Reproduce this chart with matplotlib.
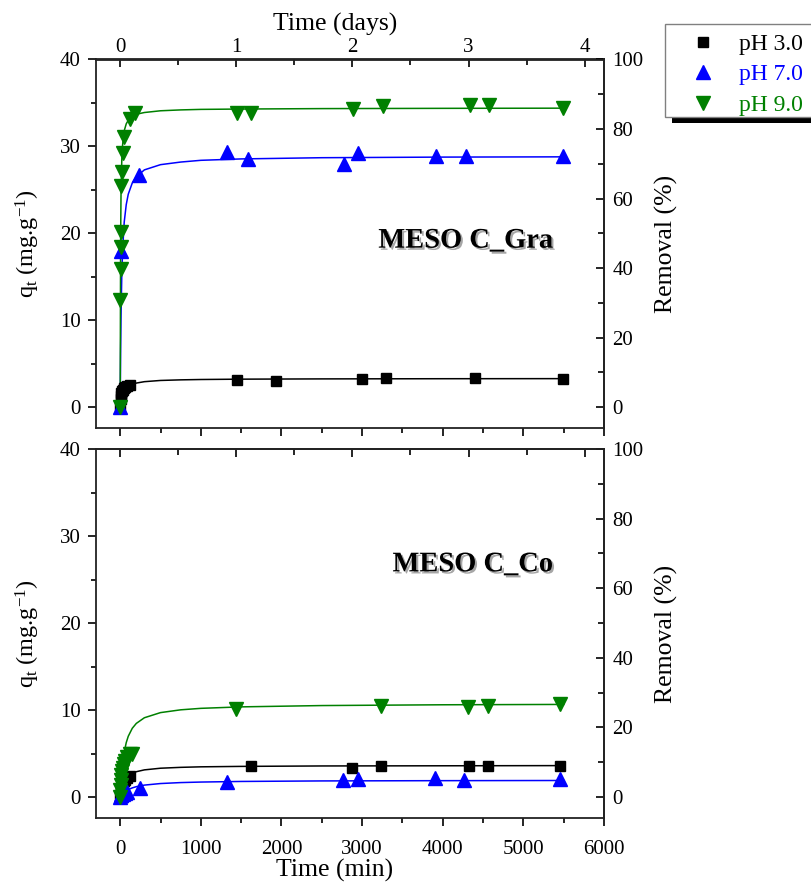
import matplotlib
matplotlib.use("Agg")
import matplotlib.pyplot as plt
import matplotlib.patheffects as pe
from matplotlib.ticker import MultipleLocator
from matplotlib.lines import Line2D
from matplotlib.patches import Rectangle

plt.rcParams['font.family'] = 'Liberation Serif'
plt.rcParams['mathtext.fontset'] = 'custom'
plt.rcParams['mathtext.rm'] = 'Liberation Serif'
plt.rcParams['mathtext.it'] = 'Liberation Serif:italic'

# ---- MESO C_Gra (top) : measured points, time in min, q in mg/g
gra_ph3_t = [0, 5, 10, 15, 20, 30, 45, 60, 90, 120, 1445, 1930, 3000, 3300, 4395, 5490]
gra_ph3_q = [0, 0.9, 1.3, 1.6, 1.8, 2.0, 2.2, 2.3, 2.4, 2.5, 3.1, 3.0, 3.2, 3.4, 3.3, 3.2]
gra_ph7_t = [0, 10, 228, 1330, 1580, 2770, 2955, 3920, 4285, 5490]
gra_ph7_q = [0, 18.0, 26.7, 29.3, 28.6, 28.0, 29.2, 28.9, 28.9, 28.9]
gra_ph9_t = [0, 2, 4, 6, 8, 15, 25, 33, 50, 125, 187, 1453, 1628, 2890, 3259, 4338, 4574, 5488]
gra_ph9_q = [0, 12.3, 15.9, 18.4, 20.1, 25.4, 27.1, 29.2, 31.1, 33.2, 33.9, 33.9, 33.9, 34.3, 34.6, 34.8, 34.8, 34.4]

# ---- MESO C_Co (bottom)
co_ph3_t = [0, 5, 10, 15, 20, 30, 45, 60, 90, 120, 1620, 2877, 3238, 4325, 4558, 5458]
co_ph3_q = [0, 0.5, 0.8, 1.0, 1.2, 1.5, 1.8, 2.0, 2.2, 2.4, 3.6, 3.4, 3.6, 3.6, 3.6, 3.6]
co_ph7_t = [0, 5, 10, 30, 60, 90, 240, 1330, 2760, 2950, 3900, 4260, 5460]
co_ph7_q = [0, 0.2, 0.3, 0.4, 0.5, 0.6, 1.1, 1.7, 1.98, 2.06, 2.18, 1.95, 2.06]
co_ph9_t = [0, 2, 5, 10, 15, 20, 30, 45, 60, 90, 120, 150, 1432, 3238, 4318, 4558, 5458]
co_ph9_q = [0, 0.8, 1.4, 2.0, 2.5, 3.0, 3.4, 3.8, 4.2, 4.6, 4.9, 5.0, 10.1, 10.5, 10.3, 10.5, 10.7]

# ---- fitted curves
fit_t = [0, 5, 10, 20, 30, 50, 75, 100, 150, 200, 300, 500, 750, 1000, 1500, 2500, 4000, 5500]
gra_fit3 = [0, 0.38, 0.68, 1.13, 1.45, 1.86, 2.18, 2.38, 2.63, 2.77, 2.93, 3.07, 3.14, 3.18, 3.22, 3.25, 3.27, 3.28]
gra_fit7 = [0, 6.3, 10.4, 15.3, 18.1, 21.3, 23.3, 24.5, 25.8, 26.5, 27.3, 27.9, 28.2, 28.4, 28.56, 28.7, 28.77, 28.8]
gra_fit9 = [0, 18.8, 24.3, 28.5, 30.2, 31.8, 32.6, 33.0, 33.5, 33.7, 33.9, 34.1, 34.2, 34.26, 34.3, 34.35, 34.38, 34.4]
co_fit3 = [0, 0.33, 0.61, 1.04, 1.37, 1.83, 2.19, 2.43, 2.74, 2.92, 3.13, 3.32, 3.42, 3.48, 3.53, 3.58, 3.60, 3.62]
co_fit7 = [0, 0.075, 0.14, 0.27, 0.38, 0.56, 0.73, 0.87, 1.06, 1.2, 1.38, 1.56, 1.67, 1.73, 1.8, 1.86, 1.89, 1.91]
co_fit9 = [0, 0.92, 1.69, 2.9, 3.85, 5.18, 6.26, 6.99, 7.91, 8.47, 9.12, 9.71, 10.03, 10.2, 10.37, 10.52, 10.61, 10.65]

labels = ['pH 3.0', 'pH 7.0', 'pH 9.0']
colors = ['black', '#0000ff', '#008000']
markers = ['s', '^', 'v']
msizes = [7.5, 9.5, 9.5]

W, H = 811, 890
fig = plt.figure(figsize=(W/100, H/100), dpi=100)
ax1 = fig.add_axes([96/W, 1-428/H, 508/W, 368.5/H])
ax2 = fig.add_axes([96/W, 1-818/H, 508/W, 369/H])

panels = [
    (ax1, [(gra_ph3_t, gra_ph3_q, gra_fit3), (gra_ph7_t, gra_ph7_q, gra_fit7),
           (gra_ph9_t, gra_ph9_q, gra_fit9)], 'MESO C_Gra', (0.728, 0.507)),
    (ax2, [(co_ph3_t, co_ph3_q, co_fit3), (co_ph7_t, co_ph7_q, co_fit7),
           (co_ph9_t, co_ph9_q, co_fit9)], 'MESO C_Co', (0.742, 0.686)),
]

def m2d(x):
    return x / 1440.0

def d2m(x):
    return x * 1440.0

def q2r(y):
    return y * 2.5

def r2q(y):
    return y / 2.5

TS = 15  # tick label size
LS = 18.5  # axis label size

for ax, series, name, pos in panels:
    for (t, q, fit), c, m, ms in zip(series, colors, markers, msizes):
        ax.plot(fit_t, fit, color=c, lw=1.1, zorder=2)
        ax.plot(t, q, ls='none', marker=m, ms=ms, color=c, zorder=3)
    ax.set_xlim(-300, 6000)
    ax.set_ylim(-2.4, 40)
    ax.xaxis.set_major_locator(MultipleLocator(1000))
    ax.xaxis.set_minor_locator(MultipleLocator(500))
    ax.yaxis.set_major_locator(MultipleLocator(10))
    ax.yaxis.set_minor_locator(MultipleLocator(5))
    for sp in ax.spines.values():
        sp.set_linewidth(1.3)
        sp.set_color('#222222')
    ax.tick_params(which='both', direction='out', width=1.2, labelsize=TS)
    ax.tick_params(which='major', length=6)
    ax.tick_params(which='minor', length=3.5)
    ax.tick_params(axis='y', pad=5)
    ax.tick_params(axis='x', pad=10)
    ax.set_ylabel('q$_\\mathregular{t}$ (mg.g$^\\mathregular{-1}$)', fontsize=17.5)
    ax.yaxis.set_label_coords(-0.106, 0.5)

    top = ax.secondary_xaxis('top', functions=(m2d, d2m))
    top.xaxis.set_major_locator(MultipleLocator(1))
    top.xaxis.set_minor_locator(MultipleLocator(0.5))
    top.tick_params(which='both', direction='in', width=1.2, labelsize=TS, pad=1.5)
    top.tick_params(which='major', length=6)
    top.tick_params(which='minor', length=4)
    top.spines['top'].set_linewidth(1.3)
    top.spines['top'].set_color('#222222')

    right = ax.secondary_yaxis('right', functions=(q2r, r2q))
    right.yaxis.set_major_locator(MultipleLocator(20))
    right.yaxis.set_minor_locator(MultipleLocator(10))
    right.tick_params(which='both', direction='in', width=1.2, labelsize=TS, pad=6)
    right.tick_params(which='major', length=6)
    right.tick_params(which='minor', length=4)
    right.spines['right'].set_linewidth(1.3)
    right.spines['right'].set_color('#222222')
    right.set_ylabel('Removal (%)', fontsize=LS)
    right.yaxis.set_label_coords(1.10, 0.5, transform=ax.transAxes)

    txt = ax.text(pos[0], pos[1], name, transform=ax.transAxes, ha='center', va='center',
                  fontsize=20.5, fontweight='bold')
    txt.set_path_effects([pe.withSimplePatchShadow(offset=(1.5, -1.5), shadow_rgbFace='grey', alpha=0.7)])

    if ax is ax1:
        ax.tick_params(axis='x', labelbottom=False)
        top.set_xlabel('Time (days)', fontsize=LS)
        top.xaxis.set_label_coords(0.47, 1.078, transform=ax.transAxes)
    else:
        top.tick_params(axis='x', labeltop=False)
        ax.set_xlabel('Time (min)', fontsize=LS)
        ax.xaxis.set_label_coords(0.47, -0.11)

# legend box with a hard black drop shadow, running off the right edge
fig.patches.append(Rectangle((672/W, 1-123/H), 160/W, 93/H, transform=fig.transFigure,
                             facecolor='black', edgecolor='none', zorder=1))
fig.patches.append(Rectangle((665/W, 1-117/H), 160/W, 93/H, transform=fig.transFigure,
                             facecolor='white', edgecolor='#808080', lw=1.0, zorder=2))

handles = [Line2D([], [], ls='none', marker=m, ms=ms, color=c)
           for m, ms, c in zip(markers, msizes, colors)]
leg = fig.legend(handles, labels, loc='upper left', bbox_to_anchor=(665/W, 1-24/H),
                 fontsize=17, frameon=False, borderpad=0.4, borderaxespad=0,
                 handlelength=2.4, handletextpad=0.35, labelspacing=0.38, numpoints=1)
leg.set_zorder(5)
for text, c in zip(leg.get_texts(), colors):
    text.set_color(c)

fig.savefig('out.png', dpi=100)
